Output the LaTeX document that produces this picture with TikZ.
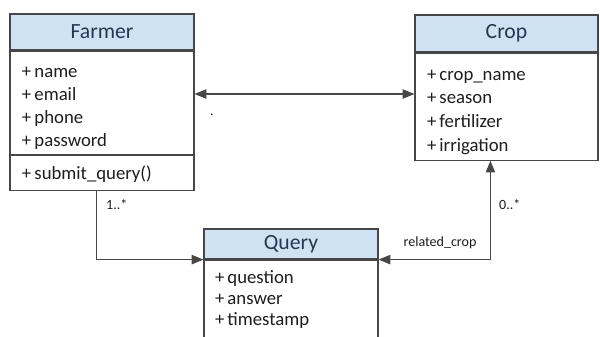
\documentclass[tikz,border=0pt]{standalone}
\usepackage{fontspec}
\setmainfont{Carlito}
\usetikzlibrary{arrows.meta, positioning, calc}
\definecolor{umlHead}{HTML}{CFE2F3}
\definecolor{umlLine}{HTML}{474747}
\definecolor{umlTitle}{HTML}{22384F}
\definecolor{umlText}{HTML}{1E1E1E}

\begin{document}
\begin{tikzpicture}[x=0.03cm, y=-0.03cm,
    >={Triangle[length=10pt, width=8pt]},
    head/.style={rectangle, draw=umlLine, line width=1pt, fill=umlHead,
                 inner sep=0pt, font=\fontsize{18.5}{21}\selectfont\color{umlTitle}},
    body/.style={rectangle, draw=umlLine, line width=1pt, fill=white,
                 inner xsep=0.36cm, inner ysep=0pt, align=left,
                 font=\fontsize{16}{19.6}\selectfont\color{umlText}},
    toppad/.style={execute at begin node={\rule{0pt}{#1}}},
    assoc/.style={draw=umlLine, line width=0.9pt},
    mult/.style={font=\fontsize{12}{14}\selectfont\color{umlText}, inner sep=0pt},
  ]
    \useasboundingbox (0,0) rectangle (600,336);

    % Farmer class
    \node[head, minimum width=5.52cm, minimum height=1.08cm] (farmerHead) at (102,32) {Farmer};
    \node[body, toppad=19pt, text width=4.8cm, minimum height=3.09cm, below=0pt of farmerHead] (farmerAttr)
      {+\,name\\ +\,email\\ +\,phone\\ +\,password};
    \node[body, toppad=14pt, text width=4.8cm, minimum height=1.05cm, below=0pt of farmerAttr] (farmerOps)
      {+\,submit\_query()};

    % Crop class
    \node[head, minimum width=5.49cm, minimum height=1.11cm] (cropHead) at (506.5,33.5) {Crop};
    \node[body, toppad=18pt, text width=4.77cm, minimum height=3.21cm, below=0pt of cropHead,
          font=\fontsize{16}{20.2}\selectfont\color{umlText}] (cropAttr)
      {+\,crop\_name\\ +\,season\\ +\,fertilizer\\ +\,irrigation};

    % Query class
    \node[head, minimum width=5.22cm, minimum height=0.9cm] (queryHead) at (291,244) {Query};
    \node[body, text width=4.56cm, minimum height=2.91cm, inner xsep=0.33cm,
          font=\fontsize{16}{18.3}\selectfont\color{umlText}, below=0pt of queryHead] (queryAttr)
      {+\,question\\ +\,answer\\ +\,timestamp\\ \mbox{}};

    % associations
    \draw[assoc, <->] ([yshift=0.26cm]farmerAttr.east)
      -- ([yshift=0.26cm]farmerAttr.east -| cropAttr.west);
    \node[mult] (dot) at (212,115) {.};

    \draw[assoc, ->] ([xshift=2.61cm]farmerOps.south west) |- (queryAttr.north west);
    \node[mult, anchor=west] (farmerMult) at (106,205) {1..*};

    \draw[assoc, <->] (queryAttr.north east) -| ([xshift=2.28cm]cropAttr.south west);
    \node[mult, anchor=west] (cropMult) at (499,205) {0..*};
    \node[mult] (relLabel) at (440,243) {related\_crop};
\end{tikzpicture}
\end{document}
